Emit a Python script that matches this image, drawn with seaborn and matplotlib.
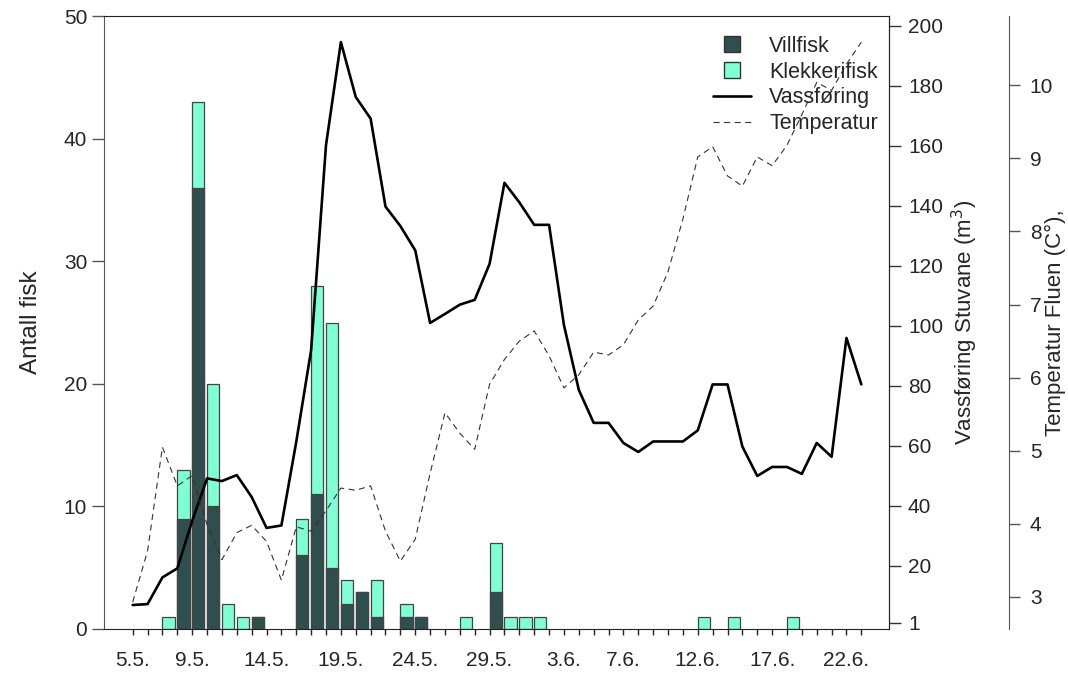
import matplotlib
matplotlib.use('Agg')

from matplotlib import pyplot as plt
from matplotlib.lines import Line2D
import seaborn as sns
import pandas as pd

# day index 0 = 5.5., 49 = 23.6.
n_days = 50

# fish counts, only days with fish
fish_days = [2, 3, 4, 5, 6, 7, 8, 11, 12, 13, 14, 15, 16, 18, 19, 22, 24, 25, 26, 27, 38, 40, 44]
villfisk = [0, 9, 36, 10, 0, 0, 1, 6, 11, 5, 2, 3, 1, 1, 1, 0, 3, 0, 0, 0, 0, 0, 0]
klekkerifisk = [1, 4, 7, 10, 2, 1, 0, 3, 17, 20, 2, 0, 3, 1, 0, 1, 4, 1, 1, 1, 1, 1, 1]

# water flow Stuvane (m3), one value per day
vassforing = [7, 7.3, 16.2, 19.2, 35, 49.2, 48.3, 50.3, 43, 32.7,
              33.5, 61.4, 92, 160.3, 194.6, 176.3, 169.1, 139.8, 133.3, 125.2,
              101, 104, 107.1, 108.7, 120.7, 147.7, 141.2, 133.7, 133.7, 100.3,
              78.7, 67.7, 67.7, 61, 58, 61.5, 61.5, 61.5, 65.2, 80.5,
              80.5, 59.8, 50, 53, 53, 50.7, 61, 56.4, 96, 80.5]

# temperature Fluen (C), one value per day
temperatur = [2.93, 3.63, 5.05, 4.52, 4.66, 3.99, 3.51, 3.88, 3.98, 3.76,
              3.23, 3.96, 3.9, 4.18, 4.49, 4.46, 4.52, 3.9, 3.49, 3.79,
              4.69, 5.52, 5.24, 5.02, 5.91, 6.25, 6.5, 6.64, 6.3, 5.86,
              6.04, 6.35, 6.31, 6.45, 6.79, 6.98, 7.45, 8.17, 9.02, 9.16,
              8.76, 8.62, 9.02, 8.9, 9.18, 9.6, 10.04, 9.93, 10.29, 10.59]

tick_pos = [0, 4, 9, 14, 19, 24, 29, 33, 38, 43, 48]
tick_text = ['5.5.', '9.5.', '14.5.', '19.5.', '24.5.', '29.5.', '3.6.', '7.6.', '12.6.', '17.6.', '22.6.']

fisk_ticks = [0, 10, 20, 30, 40, 50]
vass_ticks = [1, 20, 40, 60, 80, 100, 120, 140, 160, 180, 200]
temp_ticks = [3, 4, 5, 6, 7, 8, 9, 10]

dark = '#2F4F4F'
light = '#7FFFD4'

sns.set_style('ticks')
plt.rcParams['font.family'] = ['Liberation Sans', 'DejaVu Sans']
plt.rcParams['font.size'] = 15

fig = plt.figure(figsize=(10.68, 6.75), dpi=100)
ax = fig.add_axes([104 / 1068, 46 / 675, 785 / 1068, 613 / 675])

bar_w = 0.82
fish = pd.DataFrame({'dag': fish_days, 'Villfisk': villfisk, 'Klekkerifisk': klekkerifisk})
fish['x'] = fish['dag'] + bar_w / 2
fish['total'] = fish['Villfisk'] + fish['Klekkerifisk']
wild = fish[fish['Villfisk'] > 0]

sns.barplot(data=fish, x='x', y='total', native_scale=True, width=bar_w, color=light,
            saturation=1, edgecolor='#444444', linewidth=0.9, ax=ax)
sns.barplot(data=wild, x='x', y='Villfisk', native_scale=True, width=bar_w, color=dark,
            saturation=1, edgecolor='#444444', linewidth=0.9, ax=ax)

days = list(range(n_days))
ax2 = ax.twinx()
sns.lineplot(x=days, y=vassforing, ax=ax2, color='black', lw=1.9)
ax3 = ax.twinx()
sns.lineplot(x=days, y=temperatur, ax=ax3, color='#333333', lw=0.8, linestyle=(0, (5.5, 4)))

ax.set_xlim(-1.93, 50.86)
ax.set_ylim(0, 50)
ax2.set_ylim(-1, 203.3)
ax3.set_ylim(2.562, 10.948)

xt_labels = [''] * n_days
for p, t in zip(tick_pos, tick_text):
    xt_labels[p] = t
ax.set_xticks(days)
ax.set_xticklabels(xt_labels)
ax.set_yticks(fisk_ticks)
ax2.set_yticks(vass_ticks)
ax3.set_yticks(temp_ticks)

ax.tick_params(axis='x', length=4.5, width=1, pad=11, color='#222222')
ax.tick_params(axis='y', length=8.6, width=1, pad=3.5, color='#555555')
ax2.tick_params(axis='y', length=8.6, width=1, pad=5, color='#333333')
ax3.tick_params(axis='y', length=8, width=1, pad=7, color='#555555')

ax.set_xlabel('')
ax.set_ylabel('Antall fisk', fontsize=17.5)
ax.yaxis.set_label_coords(-0.079, 0.5)
ax2.set_ylabel('Vassføring Stuvane (m$^3$)', fontsize=16)
ax2.yaxis.set_label_coords(1.078, 0.5)
ax3.set_ylabel('Temperatur Fluen (C°),', fontsize=16)
ax3.yaxis.set_label_coords(1.198, 0.5)

for s in ['top', 'bottom', 'right']:
    ax.spines[s].set_visible(True)
    ax.spines[s].set_color('#222222')
ax.spines['left'].set_color('#555555')
for s in ['top', 'bottom', 'left']:
    ax2.spines[s].set_visible(False)
    ax3.spines[s].set_visible(False)
ax2.spines['right'].set_color('#222222')
ax3.spines['right'].set_position(('axes', 1.1529))
ax3.spines['right'].set_color('#555555')

handles = [
    Line2D([], [], marker='s', linestyle='none', markersize=11, markerfacecolor=dark, markeredgecolor='#333333'),
    Line2D([], [], marker='s', linestyle='none', markersize=11, markerfacecolor=light, markeredgecolor='#333333'),
    Line2D([], [], color='black', lw=1.9),
    Line2D([], [], color='#333333', lw=0.8, linestyle=(0, (5.5, 4))),
]
labels = ['Villfisk', 'Klekkerifisk', 'Vassføring', 'Temperatur']
fig.legend(handles, labels, loc='upper right', bbox_to_anchor=(878 / 1068, 1 - 36 / 675),
           frameon=False, fontsize=15.5, labelspacing=0.22, handlelength=1.75,
           handletextpad=0.85, borderpad=0, borderaxespad=0)

plt.savefig('out.png', dpi=100)
plt.close()
